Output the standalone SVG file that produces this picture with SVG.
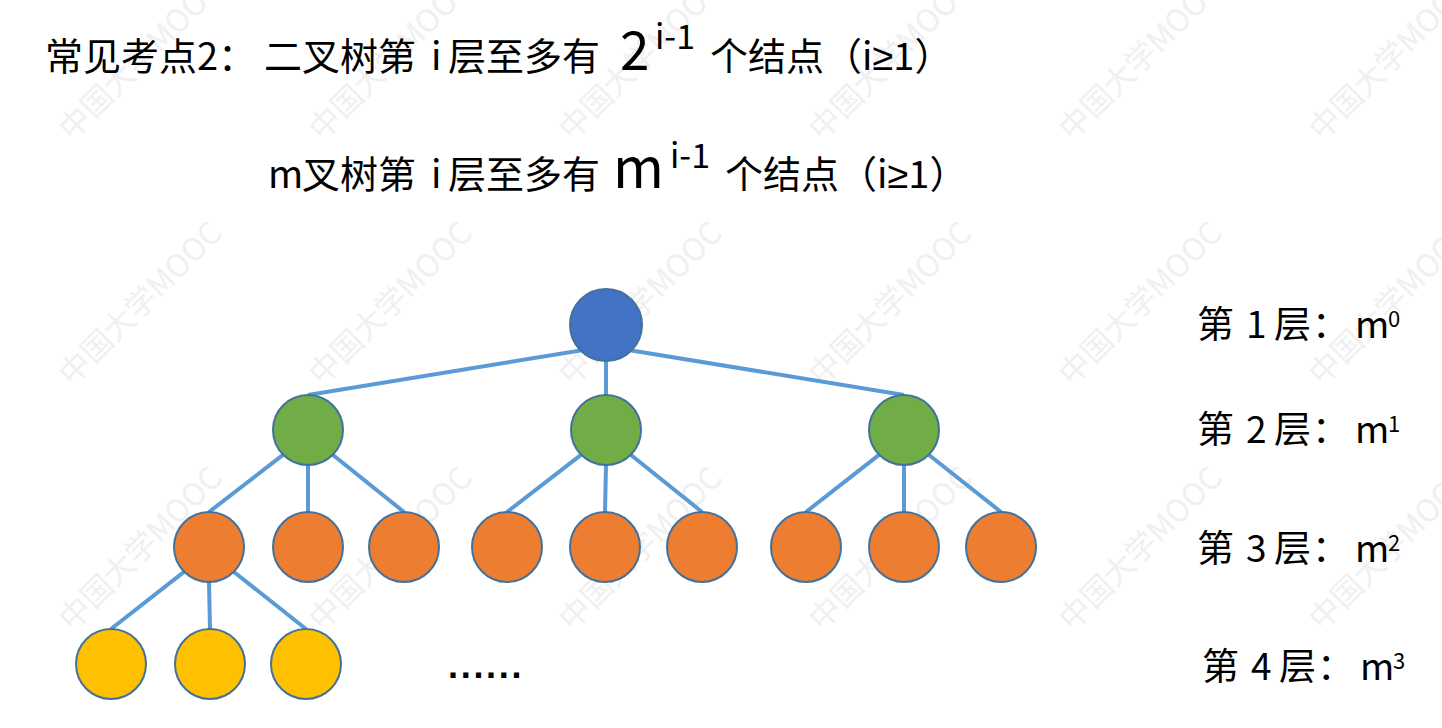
<svg xmlns="http://www.w3.org/2000/svg" xmlns:xlink="http://www.w3.org/1999/xlink" width="1442" height="728" viewBox="0 0 1442 728">
  <style>
    .txt { font-family: "Noto Sans CJK SC", "Noto Sans", sans-serif; fill: #000; }
    .ge { font-family: "Liberation Sans", "DejaVu Sans", sans-serif; }
    .wm { font-family: "Noto Sans CJK SC", "Noto Sans", sans-serif; font-size: 31px; fill: #f0f0f0; }
    .edge { stroke: #5B9BD5; stroke-width: 4; fill: none; }
    .node { stroke: #41719C; stroke-width: 2; }
    .root { fill: #4472C4; }
    .l2 { fill: #70AD47; }
    .l3 { fill: #ED7D31; }
    .l4 { fill: #FFC000; }
  </style>
  <defs>
    <text id="wmText" class="wm">中国大学MOOC</text>
  </defs>

  <rect width="1442" height="728" fill="#ffffff"/>

  <!-- background watermark grid -->
  <g id="watermark">
    <use xlink:href="#wmText" transform="translate(72,142) rotate(-45)"/>
    <use xlink:href="#wmText" transform="translate(322,142) rotate(-45)"/>
    <use xlink:href="#wmText" transform="translate(572,142) rotate(-45)"/>
    <use xlink:href="#wmText" transform="translate(822,142) rotate(-45)"/>
    <use xlink:href="#wmText" transform="translate(1072,142) rotate(-45)"/>
    <use xlink:href="#wmText" transform="translate(1322,142) rotate(-45)"/>
    <use xlink:href="#wmText" transform="translate(72,387) rotate(-45)"/>
    <use xlink:href="#wmText" transform="translate(322,387) rotate(-45)"/>
    <use xlink:href="#wmText" transform="translate(572,387) rotate(-45)"/>
    <use xlink:href="#wmText" transform="translate(822,387) rotate(-45)"/>
    <use xlink:href="#wmText" transform="translate(1072,387) rotate(-45)"/>
    <use xlink:href="#wmText" transform="translate(1322,387) rotate(-45)"/>
    <use xlink:href="#wmText" transform="translate(72,632) rotate(-45)"/>
    <use xlink:href="#wmText" transform="translate(322,632) rotate(-45)"/>
    <use xlink:href="#wmText" transform="translate(572,632) rotate(-45)"/>
    <use xlink:href="#wmText" transform="translate(822,632) rotate(-45)"/>
    <use xlink:href="#wmText" transform="translate(1072,632) rotate(-45)"/>
    <use xlink:href="#wmText" transform="translate(1322,632) rotate(-45)"/>
  </g>

  <!-- heading lines -->
  <g id="heading">
    <text class="txt" font-size="38" y="70">
      <tspan x="45">常见考点2：</tspan><tspan x="264">二叉树第</tspan><tspan x="431">i</tspan><tspan x="448">层至多有</tspan>
    </text>
    <text class="txt" font-size="53" x="620" y="70">2</text>
    <text class="txt" font-size="34" x="655" y="49">i-1</text>
    <text class="txt" font-size="38" y="70"><tspan x="710">个结点（i</tspan><tspan class="ge">≥</tspan><tspan>1）</tspan></text>

    <text class="txt" font-size="38" y="188">
      <tspan x="268">m</tspan><tspan x="302">叉树第</tspan><tspan x="431">i</tspan><tspan x="448">层至多有</tspan>
    </text>
    <text class="txt" font-size="55" x="613" y="188">m</text>
    <text class="txt" font-size="34" x="670" y="168">i-1</text>
    <text class="txt" font-size="38" y="188"><tspan x="725">个结点（i</tspan><tspan class="ge">≥</tspan><tspan>1）</tspan></text>
  </g>

  <!-- connectors -->
  <g id="connectors">
    <line class="edge" x1="580.5" y1="350.5" x2="308" y2="395"/>
    <line class="edge" x1="606" y1="361" x2="606" y2="395"/>
    <line class="edge" x1="631.5" y1="350.5" x2="904" y2="395"/>

    <line class="edge" x1="283.3" y1="454.7" x2="209" y2="512"/>
    <line class="edge" x1="308" y1="465" x2="308" y2="512"/>
    <line class="edge" x1="332.7" y1="454.7" x2="404" y2="512"/>

    <line class="edge" x1="581.3" y1="454.7" x2="507" y2="512"/>
    <line class="edge" x1="606" y1="465" x2="605" y2="512"/>
    <line class="edge" x1="630.7" y1="454.7" x2="702" y2="512"/>

    <line class="edge" x1="879.3" y1="454.7" x2="806" y2="512"/>
    <line class="edge" x1="904" y1="465" x2="904" y2="512"/>
    <line class="edge" x1="928.7" y1="454.7" x2="1001" y2="512"/>

    <line class="edge" x1="184.3" y1="571.7" x2="111" y2="629"/>
    <line class="edge" x1="209" y1="582" x2="210" y2="629"/>
    <line class="edge" x1="233.7" y1="571.7" x2="306" y2="629"/>
  </g>

  <!-- level 1 -->
  <g id="n-root"><circle class="node root" cx="606" cy="325" r="36"/></g>

  <!-- level 2 -->
  <g id="n-2a"><circle class="node l2" cx="308" cy="430" r="35"/></g>
  <g id="n-2b"><circle class="node l2" cx="606" cy="430" r="35"/></g>
  <g id="n-2c"><circle class="node l2" cx="904" cy="430" r="35"/></g>

  <!-- level 3 -->
  <g id="n-3a"><circle class="node l3" cx="209" cy="547" r="35"/></g>
  <g id="n-3b"><circle class="node l3" cx="308" cy="547" r="35"/></g>
  <g id="n-3c"><circle class="node l3" cx="404" cy="547" r="35"/></g>
  <g id="n-3d"><circle class="node l3" cx="507" cy="547" r="35"/></g>
  <g id="n-3e"><circle class="node l3" cx="605" cy="547" r="35"/></g>
  <g id="n-3f"><circle class="node l3" cx="702" cy="547" r="35"/></g>
  <g id="n-3g"><circle class="node l3" cx="806" cy="547" r="35"/></g>
  <g id="n-3h"><circle class="node l3" cx="904" cy="547" r="35"/></g>
  <g id="n-3i"><circle class="node l3" cx="1001" cy="547" r="35"/></g>

  <!-- level 4 -->
  <g id="n-4a"><circle class="node l4" cx="111" cy="664" r="35"/></g>
  <g id="n-4b"><circle class="node l4" cx="210" cy="664" r="35"/></g>
  <g id="n-4c"><circle class="node l4" cx="306" cy="664" r="35"/></g>

  <g id="ellipsis">
    <text font-family="Liberation Sans, Arial, sans-serif" font-weight="bold" font-size="36" letter-spacing="2.7" x="448" y="678">......</text>
  </g>

  <!-- per-level counts -->
  <g id="level-labels">
    <text class="txt" font-size="37" y="338"><tspan x="1197">第</tspan><tspan x="1246">1</tspan><tspan x="1274">层</tspan><tspan x="1312">：</tspan><tspan x="1355">m</tspan><tspan x="1388" font-size="22" dy="-11">0</tspan></text>
    <text class="txt" font-size="37" y="443"><tspan x="1197">第</tspan><tspan x="1246">2</tspan><tspan x="1274">层</tspan><tspan x="1312">：</tspan><tspan x="1355">m</tspan><tspan x="1388" font-size="22" dy="-11">1</tspan></text>
    <text class="txt" font-size="37" y="562"><tspan x="1197">第</tspan><tspan x="1246">3</tspan><tspan x="1274">层</tspan><tspan x="1312">：</tspan><tspan x="1355">m</tspan><tspan x="1388" font-size="22" dy="-11">2</tspan></text>
    <text class="txt" font-size="37" y="680"><tspan x="1202">第</tspan><tspan x="1251">4</tspan><tspan x="1279">层</tspan><tspan x="1317">：</tspan><tspan x="1360">m</tspan><tspan x="1393" font-size="22" dy="-11">3</tspan></text>
  </g>
</svg>
